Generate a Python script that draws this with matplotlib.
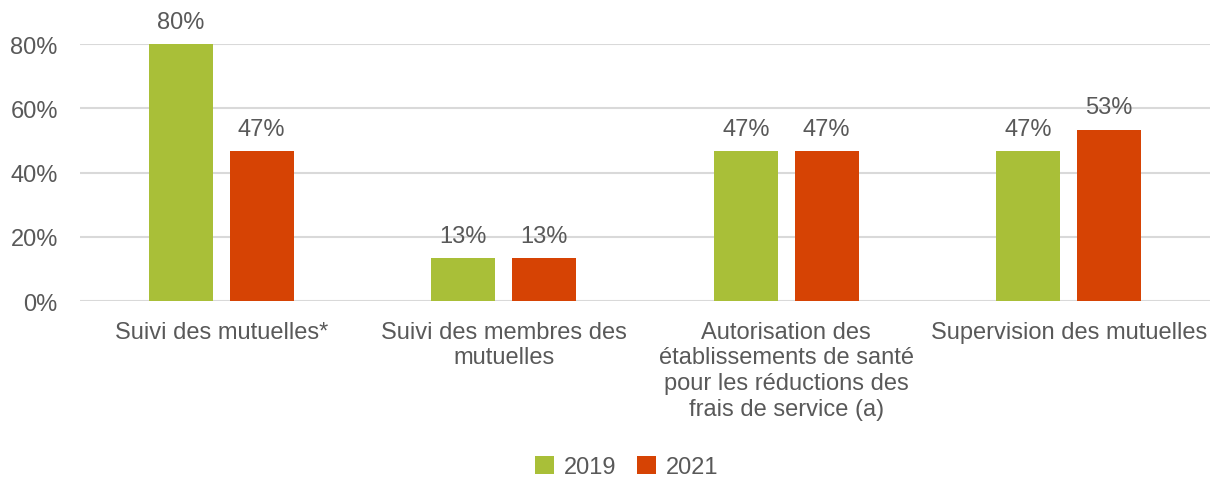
import numpy as np
import matplotlib
matplotlib.use("Agg")
import matplotlib.pyplot as plt
from matplotlib.ticker import PercentFormatter

plt.rcParams['font.family'] = ['Liberation Sans', 'DejaVu Sans']

categories = ["Suivi des mutuelles*",
              "Suivi des membres des\nmutuelles",
              "Autorisation des\nétablissements de santé\npour les réductions des\nfrais de service (a)",
              "Supervision des mutuelles"]
years = ["2019", "2021"]
vals_2019 = [80.0, 13.33, 46.67, 46.67]
vals_2021 = [46.67, 13.33, 46.67, 53.33]
colors = ["#a9bf38", "#d64304"]
txt = "#595959"
fs = 17

fig = plt.figure(figsize=(12.18, 4.81), dpi=100)
ax = fig.add_axes([0.0657, 0.372, 0.9277, 0.534])

x = np.arange(len(categories))
w = 0.227
off = 0.143
for vals, c, lab, d in [(vals_2019, colors[0], years[0], -off), (vals_2021, colors[1], years[1], off)]:
    bars = ax.bar(x + d, vals, w, color=c, label=lab, zorder=3)
    for b, v in zip(bars, vals):
        ax.text(b.get_x() + b.get_width() / 2, v + 3.6, f"{round(v)}%", ha="center", va="bottom",
                fontsize=fs, color=txt, clip_on=False)

ax.set_xlim(-0.5, len(categories) - 0.5)
ax.set_ylim(0, 80)
ax.set_yticks([0, 20, 40, 60, 80])
ax.yaxis.set_major_formatter(PercentFormatter(decimals=0))
ax.grid(axis="y", color="#d9d9d9", linewidth=1.5, zorder=0)
for s in ax.spines.values():
    s.set_visible(False)
ax.tick_params(axis="both", length=0, labelsize=fs, labelcolor=txt)
ax.tick_params(axis="y", pad=16)
ax.tick_params(axis="x", pad=14)
ax.set_xticks(x)
ax.set_xticklabels(categories, linespacing=1.23)

leg = fig.legend(loc="lower center", bbox_to_anchor=(0.5145, -0.04), ncol=2, frameon=False,
                 fontsize=fs, handlelength=0.8, handleheight=0.8, handletextpad=0.4, columnspacing=0.9)
for t in leg.get_texts():
    t.set_color(txt)

fig.savefig("out.png", dpi=100)
